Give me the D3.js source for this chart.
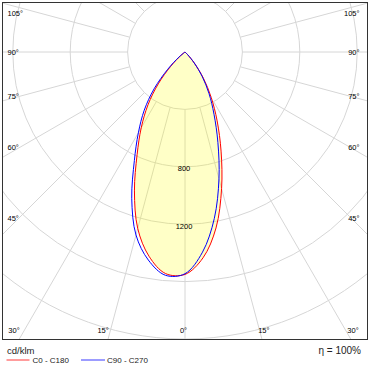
<!DOCTYPE html>
<html><head><meta charset="utf-8">
<script src="https://cdn.jsdelivr.net/npm/d3@7"></script>
<style>html,body{margin:0;padding:0;background:#fff;} svg{display:block;font-family:"Liberation Sans",Arial,sans-serif;}</style>
</head><body>
<svg id="c" width="370" height="369"></svg>
<script>
// gamma angles (deg) for each half plane
const gammas = [0,5,10,15,20,25,30,35,40,45,50,55,60,65,70,75,80,85,90];
// cd/klm values
const c0   = [1550,1440,1245,985,735,530,365,225,105,25,0,0,0,0,0,0,0,0,0];
const c180 = [1550,1550,1445,1273,1030,790,610,450,290,140,40,0,0,0,0,0,0,0,0];
const c90  = [1545,1400,1177,915,670,478,335,210,100,25,0,0,0,0,0,0,0,0,0];
const c270 = [1545,1562,1472,1320,1085,835,650,495,335,170,55,0,0,0,0,0,0,0,0];
const ringValues = [400,800,1200,1600,2000,2400];
const ringLabels = [800,1200];
const spokeAngles = d3.range(0,360,15);
const sideAngles = [45,60,75,90,105];
const bottomAngles = [0,15,30];
const legendNames = ["C0 - C180","C90 - C270"];
const legendColors = ["#ff9c9c","#9c9cff"];
const curveColors = ["#ff0000","#0000ff"];
const unitLabel = "cd/klm";
const effLabel = "\u03B7 = 100%";

const W=370,H=369;
const frame={x:2.5,y:2.5,w:365,h:337};
const cx=185, cy=52;
const r = d3.scaleLinear().domain([0,2000]).range([0,287]);
const svg=d3.select("#c");
svg.append("defs").append("clipPath").attr("id","fr").append("rect")
  .attr("x",frame.x).attr("y",frame.y).attr("width",frame.w).attr("height",frame.h);
const g=svg.append("g").attr("clip-path","url(#fr)");
const grid=g.append("g").attr("transform",`translate(${cx},${cy})`);
const gridCol="#d6d6d6";
grid.selectAll("circle").data(ringValues).join("circle")
  .attr("r",d=>r(d)).attr("fill","none").attr("stroke",gridCol).attr("stroke-width",1);
const rad=a=>a*Math.PI/180;
grid.selectAll("line").data(spokeAngles).join("line")
  .attr("x1",a=>r(400)*Math.sin(rad(a))).attr("y1",a=>r(400)*Math.cos(rad(a)))
  .attr("x2",a=>r(3000)*Math.sin(rad(a))).attr("y2",a=>r(3000)*Math.cos(rad(a)))
  .attr("stroke",gridCol).attr("stroke-width",1);

function planePoints(left,right){
  let pts=[];
  for(let i=gammas.length-1;i>0;i--) pts.push([-gammas[i],left[i]]);
  for(let i=0;i<gammas.length;i++) pts.push([gammas[i],right[i]]);
  let s=0; while(s+1<pts.length && pts[s+1][1]===0) s++;
  let e=pts.length-1; while(e-1>0 && pts[e-1][1]===0) e--;
  return pts.slice(s,e+1);
}
const line=d3.lineRadial().angle(p=>Math.PI-rad(p[0])).radius(p=>r(p[1])).curve(d3.curveCatmullRom.alpha(0.5));
const planes=[planePoints(c180,c0),planePoints(c270,c90)];
const curves=g.append("g").attr("transform",`translate(${cx},${cy})`);
curves.append("path").attr("d",line(planes[0])+"Z").attr("fill","rgba(255,255,0,0.22)").attr("stroke","none");
curves.selectAll("path.c").data(planes).join("path").attr("class","c")
  .attr("d",d=>line(d)).attr("fill","none").attr("stroke",(d,i)=>curveColors[i]).attr("stroke-width",1);

// ring labels
g.selectAll("text.rl").data(ringLabels).join("text").attr("class","rl")
  .attr("x",cx-1).attr("y",d=>cy+r(d)+2).attr("text-anchor","middle").attr("dominant-baseline","central")
  .attr("font-size",7.5).attr("fill","#000").text(d=>d);

// angle labels
const fs=7.5;
const side=[];
sideAngles.forEach(a=>{
  const y=Math.max(13.5, cy+166/Math.tan(rad(a)));
  side.push({t:a+"\u00B0",x:7.5,y,anchor:"start"});
  side.push({t:a+"\u00B0",x:359.5,y,anchor:"end"});
});
bottomAngles.forEach(a=>{
  const off=300*Math.tan(rad(a));
  if(a===0){side.push({t:"0\u00B0",x:cx-1.5,y:330,anchor:"middle"});return;}
  side.push({t:a+"\u00B0",x:Math.max(14,cx-off-1.5),y:330,anchor:"middle"});
  side.push({t:a+"\u00B0",x:Math.min(353,cx+off-1.5),y:330,anchor:"middle"});
});
svg.selectAll("text.al").data(side).join("text").attr("class","al")
  .attr("x",d=>d.x).attr("y",d=>d.y).attr("text-anchor",d=>d.anchor).attr("dominant-baseline","central")
  .attr("font-size",fs).attr("fill","#000").text(d=>d.t);

// frame
svg.append("rect").attr("x",frame.x).attr("y",frame.y).attr("width",frame.w).attr("height",frame.h)
  .attr("fill","none").attr("stroke","#333").attr("stroke-width",1);

// legend
svg.append("text").attr("x",7).attr("y",350).attr("dominant-baseline","central").attr("font-size",9.5).attr("fill","#222").text(unitLabel);
svg.append("text").attr("x",361).attr("y",350).attr("text-anchor","end").attr("dominant-baseline","central").attr("font-size",10).attr("fill","#222").text(effLabel);
const lg=svg.selectAll("g.lg").data(legendNames).join("g").attr("class","lg")
  .attr("transform",(d,i)=>`translate(${[6.5,81][i]},360)`);
lg.append("line").attr("x1",0).attr("x2",(d,i)=>i?24:23).attr("y1",0).attr("y2",0)
  .attr("stroke",(d,i)=>legendColors[i]).attr("stroke-width",2);
lg.append("text").attr("x",26).attr("y",0).attr("dominant-baseline","central")
  .attr("font-size",8).attr("fill","#222").text(d=>d);
</script>
</body></html>
